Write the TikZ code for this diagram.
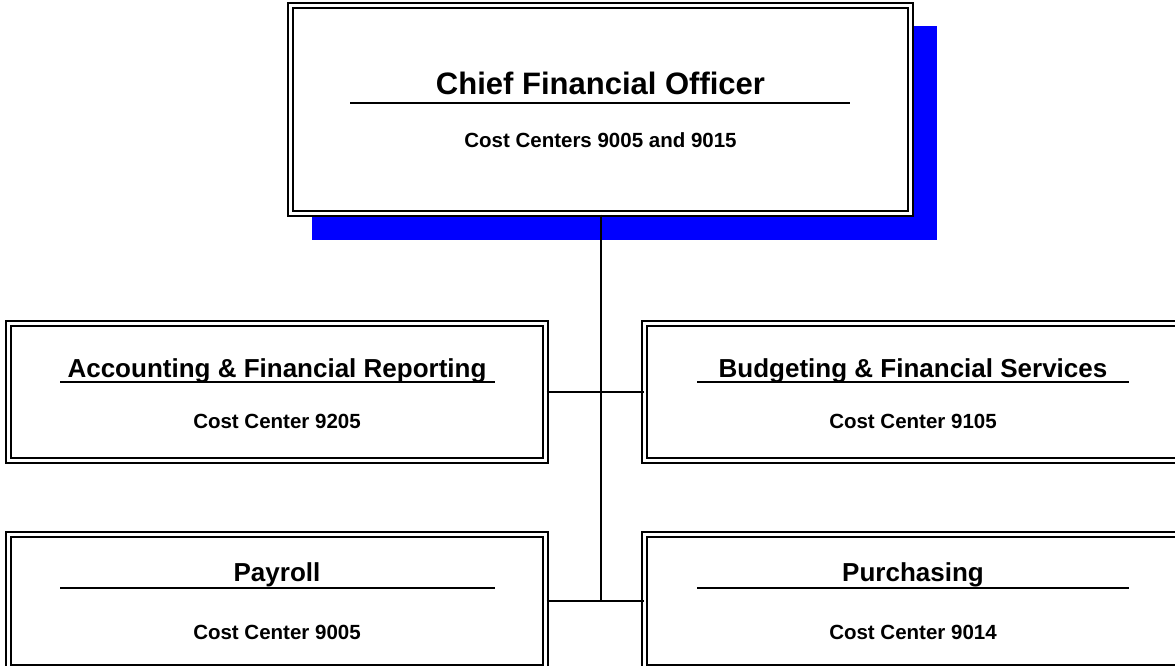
\documentclass[tikz,border=0pt]{standalone}
\usepackage{fontspec}
\setmainfont{Liberation Sans}
\definecolor{shadowblue}{RGB}{0,0,255}
\tikzset{
  orgbox/.style={draw=black, rectangle, line width=2pt, double=white, double distance=3pt, fill=white, inner sep=0pt},
  conn/.style={draw=black, line width=2pt},
  uline/.style={draw=black, line width=2pt},
  bigtitle/.style={anchor=base, inner sep=0pt, font=\fontsize{31}{34}\selectfont\bfseries},
  boxtitle/.style={anchor=base, inner sep=0pt, font=\fontsize{26}{29}\selectfont\bfseries},
  subtitle/.style={anchor=base, inner sep=0pt, font=\fontsize{20.5}{23}\selectfont\bfseries}
}
\begin{document}
\begin{tikzpicture}[x=1pt, y=-1pt]
\useasboundingbox (0,0) rectangle (1175,666);
% shadow
\fill[shadowblue] (312,26) rectangle (937,240);
% boxes
\node[orgbox, minimum width=620pt, minimum height=208pt] (cfo) at (600.5,109.5) {};
\node[orgbox, minimum width=537pt, minimum height=137pt] (acc) at (277,392) {};
\node[orgbox, minimum width=537pt, minimum height=137pt] (bud) at (913,392) {};
\node[orgbox, minimum width=537pt, minimum height=133pt] (pay) at (277,601) {};
\node[orgbox, minimum width=537pt, minimum height=133pt] (pur) at (913,601) {};
% connectors
\coordinate (jb) at (cfo.south |- pay.east);
\draw[conn] (cfo.south) -- (jb);
\draw[conn] (acc.east) -- (bud.west);
\draw[conn] (pay.east) -- (pur.west);
% CFO text
\node[bigtitle] (cfot) at (600.5,95) {Chief Financial Officer};
\draw[uline] (350,103) -- (850,103);
\node[subtitle] (cfos) at (600.5,148) {Cost Centers 9005 and 9015};
% Accounting
\node[boxtitle] (acct) at (277,377) {Accounting \& Financial Reporting};
\draw[uline] (60,382) -- (495,382);
\node[subtitle] (accs) at (277,428) {Cost Center 9205};
% Budgeting
\node[boxtitle] (budt) at (913,377) {Budgeting \& Financial Services};
\draw[uline] (697,382) -- (1129,382);
\node[subtitle] (buds) at (913,428) {Cost Center 9105};
% Payroll
\node[boxtitle] (payt) at (277,581) {Payroll};
\draw[uline] (60,588) -- (495,588);
\node[subtitle] (pays) at (277,639) {Cost Center 9005};
% Purchasing
\node[boxtitle] (purt) at (913,581) {Purchasing};
\draw[uline] (697,588) -- (1129,588);
\node[subtitle] (purs) at (913,639) {Cost Center 9014};
\end{tikzpicture}
\end{document}
